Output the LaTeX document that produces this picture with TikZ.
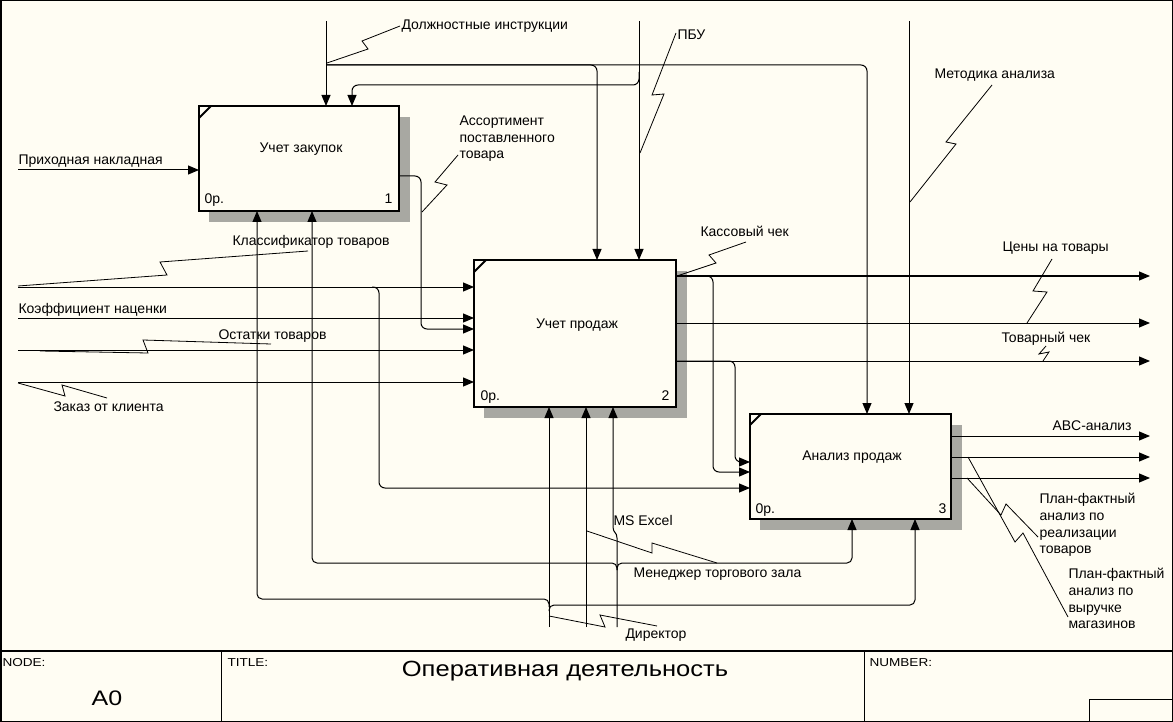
\documentclass[tikz,border=0pt]{standalone}
\usepackage{fontspec}
\setmainfont{Liberation Sans}
\usetikzlibrary{arrows.meta,calc}
\definecolor{bg}{RGB}{255,253,243}
\definecolor{shd}{RGB}{168,168,162}
\begin{document}
\begin{tikzpicture}[x=1pt,y=-1pt,line width=1pt,
  font=\fontsize{14}{16}\selectfont,
  arr/.style={-{Triangle[length=11pt,width=9pt]}},
  rc/.style={rounded corners=6pt},
  rcs/.style={rounded corners=5pt},
  sq/.style={line width=0.8pt},
  box/.style={draw,line width=2.5pt,fill=bg,inner sep=0pt,outer sep=0pt},
  lbl/.style={anchor=base west,inner sep=0pt},
  lblc/.style={anchor=base,inner sep=0pt},
  lble/.style={anchor=base east,inner sep=0pt},
  frm/.style={anchor=base west,inner sep=0pt,font=\fontsize{11.5}{13}\selectfont}]
\useasboundingbox (0,0) rectangle (1173,722);
\fill[bg] (0,0) rectangle (1173,722);
\draw[line width=1.5pt] (0.75,0.75) rectangle (1172.25,721.25);
% title block
\draw[line width=1.5pt] (0,651) -- (1172,651);
\draw[line width=1pt] (221,651) -- (221,721);
\draw[line width=1pt] (864,651) -- (864,721);
\draw[line width=1pt] (1089,721) |- (1172,699);
\node[frm] (fnode) at (2,666) {\scalebox{1.18}[1]{NODE:}};
\node[frm] (ftitle) at (227,666) {\scalebox{1.18}[1]{TITLE:}};
\node[frm] (fnum) at (869,666) {\scalebox{1.18}[1]{NUMBER:}};
\node[lblc,font=\fontsize{21}{24}\selectfont] (fa0) at (107,705) {\scalebox{1.19}[1]{A0}};
\node[lblc,font=\fontsize{22}{26}\selectfont] (ftt) at (565,676) {\scalebox{1.16}[1]{Оперативная деятельность}};
% shadows
\fill[shd] (209,117) rectangle (410,222);
\fill[shd] (484,271) rectangle (687,418);
\fill[shd] (760,425) rectangle (962,530);
% boxes
\node[box,minimum width=200pt,minimum height=105pt] (b1) at (299,158.5) {};
\node[box,minimum width=202pt,minimum height=147pt] (b2) at (575,333.5) {};
\node[box,minimum width=201pt,minimum height=105pt] (b3) at (850.5,466.5) {};
\draw[line width=2pt] ($(b1.north west)+(0,12)$) -- ($(b1.north west)+(12,0)$);
\draw[line width=2pt] ($(b2.north west)+(0,12)$) -- ($(b2.north west)+(12,0)$);
\draw[line width=2pt] ($(b3.north west)+(0,11)$) -- ($(b3.north west)+(11,0)$);
\node[lblc] (b1t) at (301,153) {Учет закупок};
\node[lbl] (b1n) at (204,204) {0р.};
\node[lble] (b1i) at (393,204) {1};
\node[lblc] (b2t) at (577,328) {Учет продаж};
\node[lbl] (b2n) at (480,400) {0р.};
\node[lble] (b2i) at (670,400) {2};
\node[lblc] (b3t) at (852,460) {Анализ продаж};
\node[lbl] (b3n) at (755,513) {0р.};
\node[lble] (b3i) at (947,513) {3};
% coordinates
\coordinate (i1) at (18,170);
\coordinate (i2) at (18,287);
\coordinate (i3) at (18,318);
\coordinate (i4) at (18,350);
\coordinate (i5) at (18,382);
\coordinate (c1) at (326,21);
\coordinate (c2) at (639,21);
\coordinate (c3) at (909,21);
\coordinate (j1) at (326,65);
\coordinate (k1) at (867,65);
\coordinate (k2) at (597,65);
\coordinate (j2) at (639,72);
\coordinate (h2) at (352,85);
\coordinate (o1) at (399,176);
\coordinate (e1) at (421,329);
\coordinate (j3) at (372,287);
\coordinate (k4) at (379,488);
\coordinate (t1) at (1150,276);
\coordinate (t2) at (1150,323);
\coordinate (t3) at (1150,361);
\coordinate (t4) at (1150,436);
\coordinate (t5) at (1150,457);
\coordinate (t6) at (1150,478);
\coordinate (k5) at (713,472);
\coordinate (k6) at (735,462);
\coordinate (m1) at (549,627);
\coordinate (m2) at (586,627);
\coordinate (m3) at (617,627);
\coordinate (m3t) at (613,527);
\coordinate (jd) at (549,607);
\coordinate (jd2) at (549,611);
\coordinate (k7) at (257,599);
\coordinate (k8) at (915,605);
\coordinate (jm) at (617,570);
\coordinate (k9) at (312,563);
\coordinate (k10) at (852,563);
% connectors
\draw[arr] (i1) -- (i1 -| b1.west);
\draw[arr] (c1) -- (c1 |- b1.north);
\draw[arr,rc] (j1) -| (k1 |- b3.north);
\draw[arr,rc] (j1) -| (k2 |- b2.north);
\draw[arr] (c2) -- (c2 |- b2.north);
\draw[arr,rc] (j2) |- (h2) -- (h2 |- b1.north);
\draw[arr] (c3) -- (c3 |- b3.north);
\draw[arr,rc] (b1.east |- o1) -| (e1) -- (e1 -| b2.west);
\draw[arr] (i2) -- (i2 -| b2.west);
\draw[arr,rc] (j3) -| (k4) -- (k4 -| b3.west);
\draw[arr] (i3) -- (i3 -| b2.west);
\draw[arr] (i4) -- (i4 -| b2.west);
\draw[arr] (i5) -- (i5 -| b2.west);
\draw[arr] (b2.east |- t1) -- (t1);
\draw[arr,rc] (b2.east |- t1) -| (k5) -- (k5 -| b3.west);
\draw[arr] (b2.east |- t2) -- (t2);
\draw[arr] (b2.east |- t3) -- (t3);
\draw[arr,rc] (b2.east |- t3) -| (k6) -- (k6 -| b3.west);
\draw[arr] (b3.east |- t4) -- (t4);
\draw[arr] (b3.east |- t5) -- (t5);
\draw[arr] (b3.east |- t6) -- (t6);
\draw[arr] (m1) -- (m1 |- b2.south);
\draw[arr] (m2) -- (m2 |- b2.south);
\draw[arr] (m3) -- (617,538) .. controls (617,532) and (613,533) .. (m3t) -- (m3t |- b2.south);
\draw[arr,rcs] (jd) |- (k7) -- (k7 |- b1.south);
\draw[arr,rcs] (jd2) |- (k8) -- (k8 |- b3.south);
\draw[arr,rcs] (jm) |- (k9) -- (k9 |- b1.south);
\draw[arr,rcs] (jm) |- (k10) -- (k10 |- b3.south);
% squiggles
\draw[sq] (327,63) -- (368,49) -- (362,41) -- (400,26);
\draw[sq] (640,153) -- (664,94) -- (652,95) -- (676,33);
\draw[sq] (910,202) -- (956,144) -- (946,142) -- (992,85);
\draw[sq] (422,212) -- (447,185) -- (435,182) -- (458,155);
\draw[sq] (18,286) -- (167,275) -- (160,262) -- (308,251);
\draw[sq] (40,351) -- (148,353) -- (143,340) -- (271,344);
\draw[sq] (18,383) -- (65,396) -- (62,385) -- (107,398);
\draw[sq] (677,276) -- (716,263) -- (709,255) -- (746,242);
\draw[sq] (1027,323) -- (1047,292) -- (1033,291) -- (1052,259);
\draw[sq] (1043,361) -- (1049,352) -- (1039,354) -- (1046,346);
\draw[sq] (967,478) -- (1001,515) -- (1006,504) -- (1038,537);
\draw[sq] (968,457) -- (1015,542) -- (1023,533) -- (1068,617);
\draw[sq] (587,531) -- (652,553) -- (652,543) -- (717,563);
\draw[sq] (549,616) -- (605,627) -- (600,615) -- (657,626);
% labels
\node[lbl] (l1) at (18,165) {Приходная накладная};
\node[lbl] (l2) at (401,30) {Должностные инструкции};
\node[lbl] (l3) at (677,40) {ПБУ};
\node[lbl] (l4) at (934,79) {Методика анализа};
\node[lbl] (l5a) at (459,126) {Ассортимент};
\node[lbl] (l5b) at (459,143) {поставленного};
\node[lbl] (l5c) at (459,159) {товара};
\node[lbl] (l6) at (232,246) {Классификатор товаров};
\node[lbl] (l7) at (18,313) {Коэффициент наценки};
\node[lbl] (l8) at (218,339) {Остатки товаров};
\node[lbl] (l9) at (53,411) {Заказ от клиента};
\node[lbl] (l10) at (700,237) {Кассовый чек};
\node[lbl] (l11) at (1002,252) {Цены на товары};
\node[lbl] (l12) at (1001,342) {Товарный чек};
\node[lbl] (l13) at (1052,430) {ABC-анализ};
\node[lbl] (l14a) at (1039,503) {План-фактный};
\node[lbl] (l14b) at (1039,520) {анализ по};
\node[lbl] (l14c) at (1039,537) {реализации};
\node[lbl] (l14d) at (1039,553) {товаров};
\node[lbl] (l15a) at (1068,578) {План-фактный};
\node[lbl] (l15b) at (1068,595) {анализ по};
\node[lbl] (l15c) at (1068,612) {выручке};
\node[lbl] (l15d) at (1068,628) {магазинов};
\node[lbl] (l16) at (633,577) {Менеджер торгового зала};
\node[lbl] (l17) at (613,525) {MS Excel};
\node[lbl] (l18) at (625,638) {Директор};
\end{tikzpicture}
\end{document}
